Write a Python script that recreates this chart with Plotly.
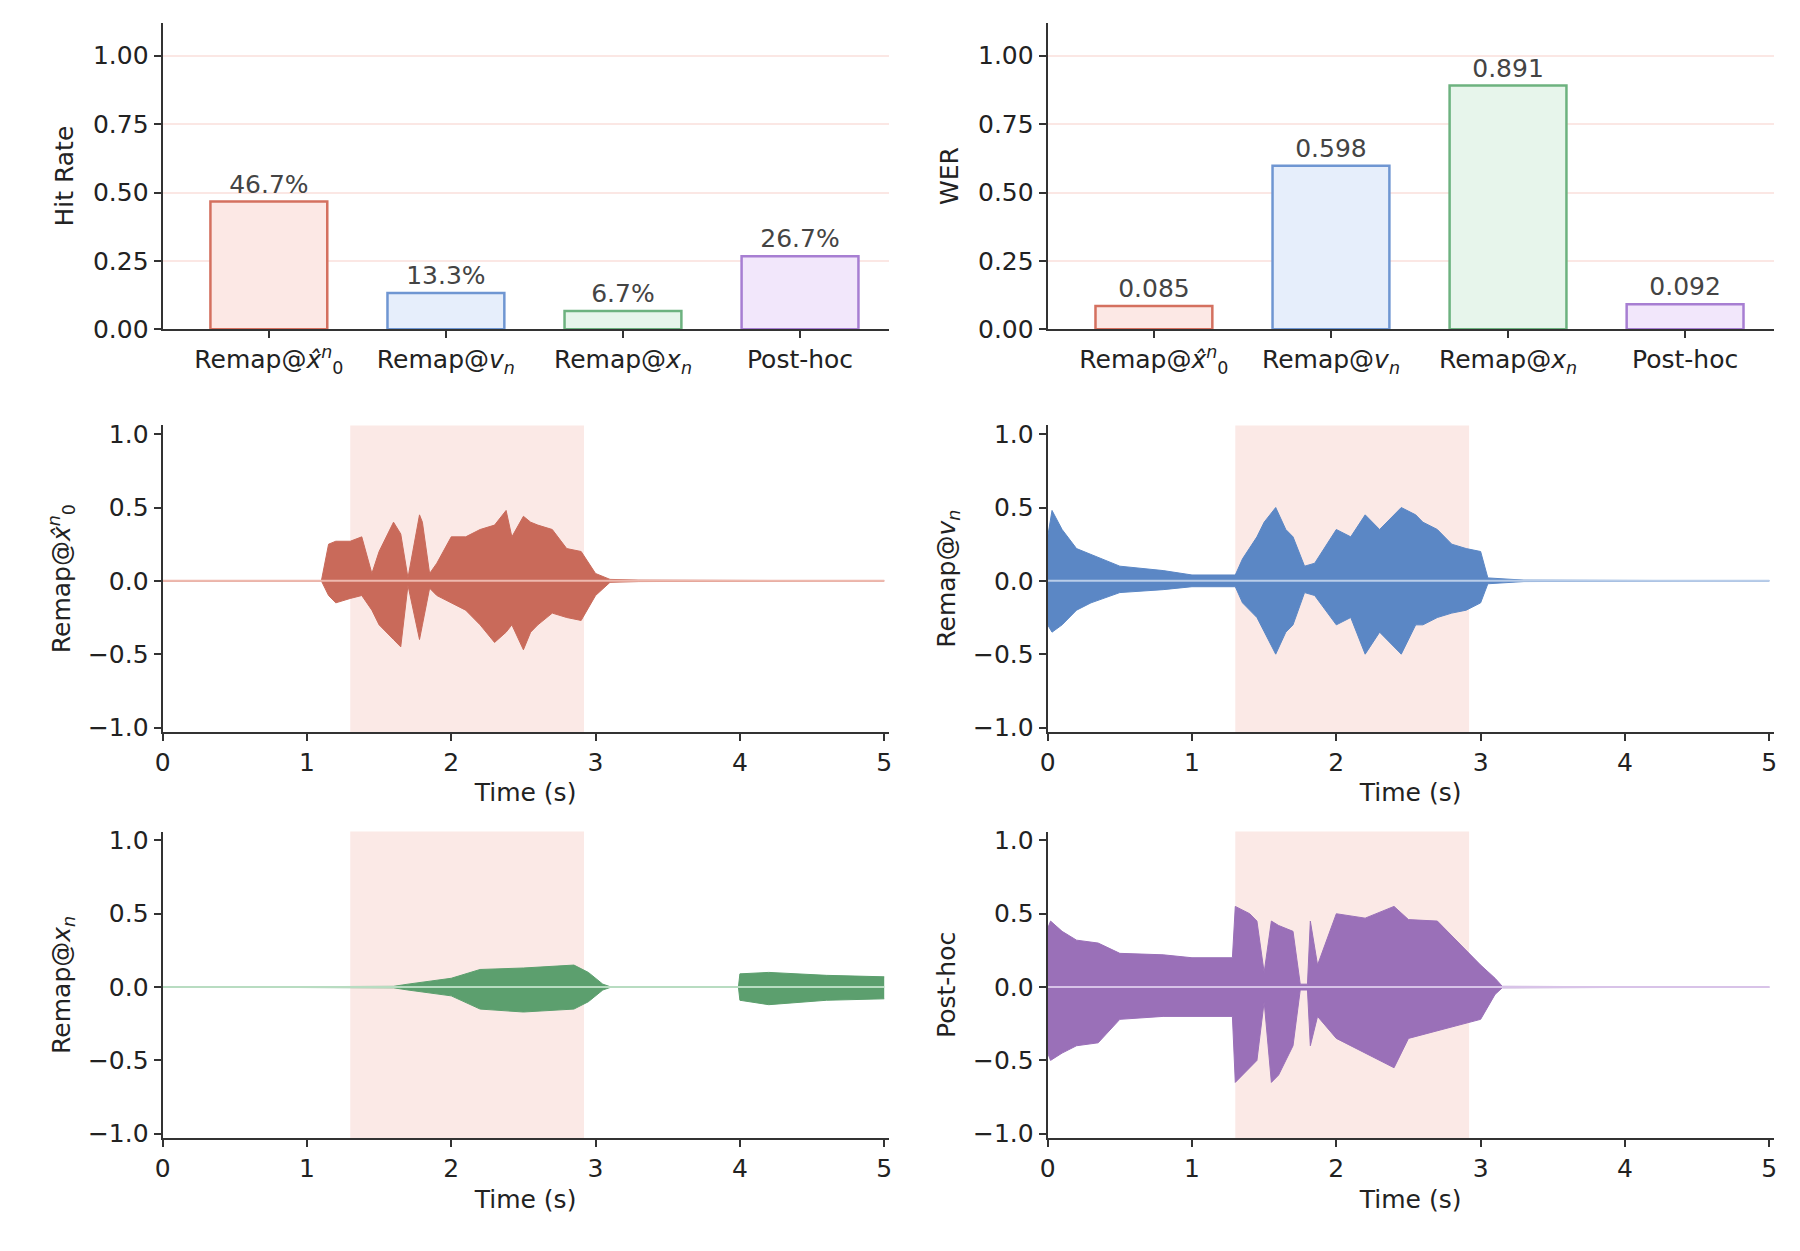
import plotly.graph_objects as go

# --- data ---
methods = ["Remap@<i>x̂</i><sup><i>n</i></sup><sub>0</sub>", "Remap@<i>v</i><sub><i>n</i></sub>",
           "Remap@<i>x</i><sub><i>n</i></sub>", "Post-hoc"]
hit_rate = [0.467, 0.133, 0.067, 0.267]
hit_labels = ["46.7%", "13.3%", "6.7%", "26.7%"]
wer = [0.085, 0.598, 0.891, 0.092]
wer_labels = ["0.085", "0.598", "0.891", "0.092"]

# waveform envelopes
t_x0 = [0, 1.1, 1.15, 1.2, 1.3, 1.38, 1.45, 1.5, 1.6, 1.65, 1.7, 1.78, 1.8, 1.85, 1.9, 2.0, 2.1, 2.2, 2.3,
        2.38, 2.42, 2.5, 2.55, 2.6, 2.7, 2.8, 2.9, 3.0, 3.1, 3.3, 5.0]
up_x0 = [0, 0, 0.25, 0.27, 0.27, 0.3, 0.05, 0.2, 0.4, 0.32, 0.02, 0.45, 0.4, 0.05, 0.12, 0.3, 0.3, 0.35, 0.38,
         0.48, 0.3, 0.44, 0.4, 0.38, 0.35, 0.22, 0.2, 0.05, 0.01, 0.005, 0]
lo_x0 = [0, 0, -0.1, -0.15, -0.12, -0.1, -0.2, -0.3, -0.4, -0.45, -0.03, -0.4, -0.3, -0.05, -0.1, -0.15, -0.2,
         -0.3, -0.42, -0.35, -0.3, -0.47, -0.35, -0.3, -0.22, -0.25, -0.27, -0.1, -0.01, -0.005, 0]

t_v = [0, 0.03, 0.1, 0.2, 0.3, 0.5, 0.8, 1.0, 1.3, 1.35, 1.45, 1.5, 1.58, 1.65, 1.7, 1.78, 1.85, 2.0, 2.1, 2.2,
       2.3, 2.45, 2.55, 2.6, 2.7, 2.8, 2.9, 3.0, 3.05, 3.3, 5.0]
up_v = [0.3, 0.48, 0.35, 0.22, 0.18, 0.1, 0.07, 0.04, 0.04, 0.15, 0.3, 0.4, 0.5, 0.35, 0.3, 0.1, 0.12, 0.35,
        0.3, 0.45, 0.35, 0.5, 0.45, 0.4, 0.35, 0.25, 0.22, 0.2, 0.02, 0.005, 0]
lo_v = [-0.3, -0.35, -0.3, -0.2, -0.15, -0.08, -0.06, -0.04, -0.04, -0.15, -0.25, -0.35, -0.5, -0.35, -0.3,
        -0.08, -0.1, -0.3, -0.25, -0.5, -0.35, -0.5, -0.3, -0.3, -0.25, -0.22, -0.2, -0.15, -0.02, -0.005, 0]

t_xn = [0, 1.6, 1.7, 2.0, 2.2, 2.5, 2.85, 2.95, 3.05, 3.1, 3.99, 4.0, 4.2, 4.6, 5.0]
up_xn = [0, 0.005, 0.02, 0.06, 0.12, 0.13, 0.15, 0.1, 0.02, 0.003, 0.003, 0.09, 0.1, 0.08, 0.07]
lo_xn = [0, -0.005, -0.02, -0.06, -0.15, -0.17, -0.15, -0.1, -0.02, -0.003, -0.003, -0.09, -0.12, -0.09,
         -0.08]

t_ph = [0, 0.02, 0.1, 0.2, 0.35, 0.5, 0.8, 1.0, 1.28, 1.3, 1.4, 1.45, 1.5, 1.55, 1.6, 1.7, 1.75, 1.8, 1.82,
        1.87, 2.0, 2.2, 2.4, 2.5, 2.7, 2.9, 3.0, 3.1, 3.15, 5.0]
up_ph = [0.4, 0.45, 0.38, 0.32, 0.3, 0.23, 0.22, 0.2, 0.2, 0.55, 0.5, 0.45, 0.1, 0.45, 0.42, 0.38, 0.02, 0.02,
         0.45, 0.15, 0.5, 0.47, 0.55, 0.46, 0.45, 0.25, 0.15, 0.06, 0.005, 0]
lo_ph = [-0.45, -0.5, -0.45, -0.4, -0.38, -0.22, -0.2, -0.2, -0.2, -0.65, -0.55, -0.5, -0.1, -0.65, -0.6,
         -0.4, -0.02, -0.02, -0.4, -0.2, -0.35, -0.45, -0.55, -0.35, -0.3, -0.25, -0.22, -0.05, -0.005, 0]

speech_region = [1.3, 2.92]
time_ticks = [0, 1, 2, 3, 4, 5]

edge = ["#d4705f", "#6f96d2", "#6db27f", "#a77ed2"]
fill = ["#fce8e5", "#e6eefb", "#e7f5eb", "#f2e7fb"]
wave_col = ["#c96a5a", "#5b87c5", "#5c9f6e", "#9a70b8"]
zero_col = ["#eeb9ae", "#b9cde9", "#b8dcc1", "#d8c3e8"]

FONT = "DejaVu Sans"
FS = 25
fig = go.Figure()

xl, xr = [0.082, 0.488], [0.577, 0.983]
rows_y = [[0.743, 0.992], [0.416, 0.665], [0.086, 0.335]]

axis_base = dict(showline=True, linecolor="#333", linewidth=2, ticks="outside", ticklen=7, tickwidth=1.5,
                 tickcolor="#333", tickfont=dict(family=FONT, size=FS, color="#222"), zeroline=False,
                 showgrid=False, mirror=False)

# bar panels
for i, (vals, labs, ytitle) in enumerate([(hit_rate, hit_labels, "Hit Rate"), (wer, wer_labels, "WER")]):
    n = i + 1
    xa = "x" if n == 1 else "x2"
    ya = "y" if n == 1 else "y2"
    fig.add_trace(go.Bar(x=methods, y=vals, text=labs, textposition="outside", width=0.66,
                         marker=dict(color=fill, line=dict(color=edge, width=2.5)),
                         textfont=dict(family=FONT, size=FS, color="#444"), cliponaxis=False,
                         xaxis=xa, yaxis=ya, showlegend=False))
    dom = xl if n == 1 else xr
    fig.layout["xaxis" if n == 1 else "xaxis2"] = dict(axis_base, domain=dom, anchor=ya, range=[-0.6, 3.5])
    fig.layout["yaxis" if n == 1 else "yaxis2"] = dict(
        axis_base, domain=rows_y[0], anchor=xa, range=[0, 1.12], tickvals=[0, 0.25, 0.5, 0.75, 1.0],
        ticktext=["0.00", "0.25", "0.50", "0.75", "1.00"], showgrid=True, gridcolor="#fbe7e4", gridwidth=1.5,
        title=dict(text=ytitle, font=dict(family=FONT, size=FS, color="#222"), standoff=12))

# waveform panels
waves = [(t_x0, up_x0, lo_x0, methods[0]), (t_v, up_v, lo_v, methods[1]),
         (t_xn, up_xn, lo_xn, methods[2]), (t_ph, up_ph, lo_ph, methods[3])]
for k, (t, up, lo, name) in enumerate(waves):
    n = k + 3
    xa, ya = f"x{n}", f"y{n}"
    fig.add_trace(go.Scatter(x=t, y=up, mode="lines", line=dict(color=wave_col[k], width=1),
                             xaxis=xa, yaxis=ya, showlegend=False))
    fig.add_trace(go.Scatter(x=t, y=lo, mode="lines", line=dict(color=wave_col[k], width=1), fill="tonexty",
                             fillcolor=wave_col[k], xaxis=xa, yaxis=ya, showlegend=False))
    fig.add_trace(go.Scatter(x=[0, 5], y=[0, 0], mode="lines", line=dict(color=zero_col[k], width=2),
                             xaxis=xa, yaxis=ya, showlegend=False))
    fig.add_shape(type="rect", x0=speech_region[0], x1=speech_region[1], y0=0, y1=1, xref=xa,
                  yref=f"{ya} domain", fillcolor="#fbe9e6", line_width=0, layer="below")
    dom = xl if k % 2 == 0 else xr
    fig.layout[f"xaxis{n}"] = dict(axis_base, domain=dom, anchor=ya, range=[0, 5.03], tickvals=time_ticks,
                                   title=dict(text="Time (s)", font=dict(family=FONT, size=FS, color="#222"),
                                              standoff=8))
    fig.layout[f"yaxis{n}"] = dict(axis_base, domain=rows_y[1 + k // 2], anchor=xa, range=[-1.03, 1.06],
                                   tickvals=[-1, -0.5, 0, 0.5, 1],
                                   ticktext=["−1.0", "−0.5", "0.0", "0.5", "1.0"],
                                   title=dict(text=name, font=dict(family=FONT, size=FS, color="#222"),
                                              standoff=10))

fig.update_layout(width=1800, height=1251, paper_bgcolor="white", plot_bgcolor="white",
                  margin=dict(l=0, r=0, t=0, b=0), font=dict(family=FONT))
fig.write_html("out.html")
